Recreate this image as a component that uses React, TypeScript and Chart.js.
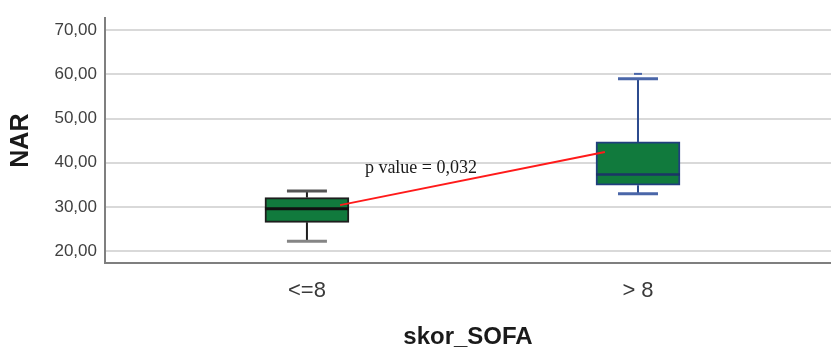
import React, { useEffect, useRef } from "react";
import { Chart, registerables } from "chart.js";

Chart.register(...registerables);

const categories = ["<=8", "> 8"];
const q1 = [26.5, 34.9];
const q3 = [32.1, 44.7];
const medians = [29.6, 37.3];
const whiskerLow = [22.2, 33.0];
const whiskerHigh = [33.6, 59.0];
const extremes: number[][] = [[], [60.1]];
const yTicks = [20, 30, 40, 50, 60, 70];
const lineX = [0.1, 0.9];
const lineY = [30.4, 42.4];
const pLabel = "p value = 0,032";
const pLabelPos = { x: 0.175, y: 38.7 };

const boxBorder = ["#1e1e1e", "#213f7e"];
const whiskerColor = ["#1e1e1e", "#2c4b8e"];
const capTopColor = ["#555555", "#4a66a8"];
const capBotColor = ["#858585", "#4a66a8"];
const boxFill = "#117a3d";

const boxPlugin = {
  id: "boxExtras",
  afterDatasetsDraw(chart: any) {
    const ctx = chart.ctx;
    const xs = chart.scales.x;
    const ys = chart.scales.y;
    const half = 42;
    const capHalf = 20;
    ctx.save();
    categories.forEach((_, i) => {
      const cx = xs.getPixelForValue(i);
      const yTop = ys.getPixelForValue(q3[i]);
      const yBot = ys.getPixelForValue(q1[i]);
      const yHi = ys.getPixelForValue(whiskerHigh[i]);
      const yLo = ys.getPixelForValue(whiskerLow[i]);
      const yMed = ys.getPixelForValue(medians[i]);
      ctx.strokeStyle = whiskerColor[i];
      ctx.lineWidth = 2;
      ctx.beginPath();
      ctx.moveTo(cx, yTop);
      ctx.lineTo(cx, yHi);
      ctx.moveTo(cx, yBot);
      ctx.lineTo(cx, yLo);
      ctx.stroke();
      ctx.lineWidth = 3;
      ctx.strokeStyle = capTopColor[i];
      ctx.beginPath();
      ctx.moveTo(cx - capHalf, yHi);
      ctx.lineTo(cx + capHalf, yHi);
      ctx.stroke();
      ctx.strokeStyle = capBotColor[i];
      ctx.beginPath();
      ctx.moveTo(cx - capHalf, yLo);
      ctx.lineTo(cx + capHalf, yLo);
      ctx.stroke();
      ctx.strokeStyle = i === 0 ? "#111111" : "#1b3566";
      ctx.lineWidth = i === 0 ? 3 : 2.5;
      ctx.beginPath();
      ctx.moveTo(cx - half, yMed);
      ctx.lineTo(cx + half, yMed);
      ctx.stroke();
      extremes[i].forEach((v) => {
        const ey = ys.getPixelForValue(v);
        ctx.strokeStyle = capTopColor[i];
        ctx.lineWidth = 2;
        ctx.beginPath();
        ctx.moveTo(cx - 4, ey);
        ctx.lineTo(cx + 4, ey);
        ctx.stroke();
      });
    });
    ctx.strokeStyle = "#ff1a1a";
    ctx.lineWidth = 2;
    ctx.beginPath();
    ctx.moveTo(xs.getPixelForValue(lineX[0]), ys.getPixelForValue(lineY[0]));
    ctx.lineTo(xs.getPixelForValue(lineX[1]), ys.getPixelForValue(lineY[1]));
    ctx.stroke();
    ctx.fillStyle = "#1a1a1a";
    ctx.font = "18px 'Liberation Serif', 'Times New Roman', serif";
    ctx.textAlign = "left";
    ctx.textBaseline = "middle";
    ctx.fillText(pLabel, xs.getPixelForValue(pLabelPos.x), ys.getPixelForValue(pLabelPos.y));
    ctx.restore();
  },
};

export default function App() {
  const ref = useRef<HTMLCanvasElement | null>(null);
  useEffect(() => {
    if (!ref.current) return;
    const chart = new Chart(ref.current, {
      type: "bar",
      data: {
        datasets: [
          {
            label: "box",
            data: categories.map((_, i) => ({ x: i, y: [q1[i], q3[i]] })) as any,
            backgroundColor: boxFill,
            borderColor: boxBorder,
            borderWidth: 2,
            borderSkipped: false,
            barThickness: 84,
          } as any,
        ],
      },
      plugins: [boxPlugin],
      options: {
        animation: false,
        responsive: false,
        maintainAspectRatio: false,
        layout: { padding: { top: 14, right: 0, left: 0, bottom: 0 } },
        plugins: { legend: { display: false }, tooltip: { enabled: false } },
        scales: {
          x: {
            type: "linear",
            offset: false,
            min: -0.61,
            max: 1.583,
            afterFit: (s: any) => {
              s.height = 86;
            },
            afterBuildTicks: (s: any) => {
              s.ticks = categories.map((_, i) => ({ value: i }));
            },
            grid: { display: false, drawTicks: false, offset: false },
            border: { display: true, color: "#7f7f7f", width: 2 },
            ticks: {
              padding: 15,
              color: "#3a3a3a",
              font: { family: "'Liberation Sans', Arial, sans-serif", size: 22 },
              callback: (v: any) => categories[Math.round(Number(v))] ?? "",
              maxRotation: 0,
              autoSkip: false,
            },
            title: {
              display: true,
              text: "skor_SOFA",
              color: "#1a1a1a",
              font: { family: "'Liberation Sans', Arial, sans-serif", size: 24, weight: "bold", lineHeight: 1 },
              padding: { top: 0, bottom: 0 },
            },
          },
          y: {
            type: "linear",
            min: 17.3,
            max: 72.7,
            afterFit: (s: any) => {
              s.width = 105;
            },
            afterBuildTicks: (s: any) => {
              s.ticks = yTicks.map((v) => ({ value: v }));
            },
            grid: { color: "#d9d9d9", lineWidth: 2, drawTicks: false },
            border: { display: true, color: "#7f7f7f", width: 2 },
            ticks: {
              padding: 8,
              color: "#404040",
              font: { family: "'Liberation Sans', Arial, sans-serif", size: 17 },
              callback: (v: any) => Number(v).toFixed(2).replace(".", ","),
            },
            title: {
              display: true,
              text: "NAR",
              color: "#1a1a1a",
              font: { family: "'Liberation Sans', Arial, sans-serif", size: 25, weight: "bold", lineHeight: 1 },
              padding: { top: 8.5, bottom: 0 },
            },
          },
        },
      },
    });
    return () => chart.destroy();
  }, []);
  return (
    <div style={{ position: "absolute", left: 0, top: 0, width: 831, height: 349, background: "#fff" }}>
      <canvas ref={ref} width={831} height={349} style={{ display: "block", width: 831, height: 349 }} />
    </div>
  );
}
